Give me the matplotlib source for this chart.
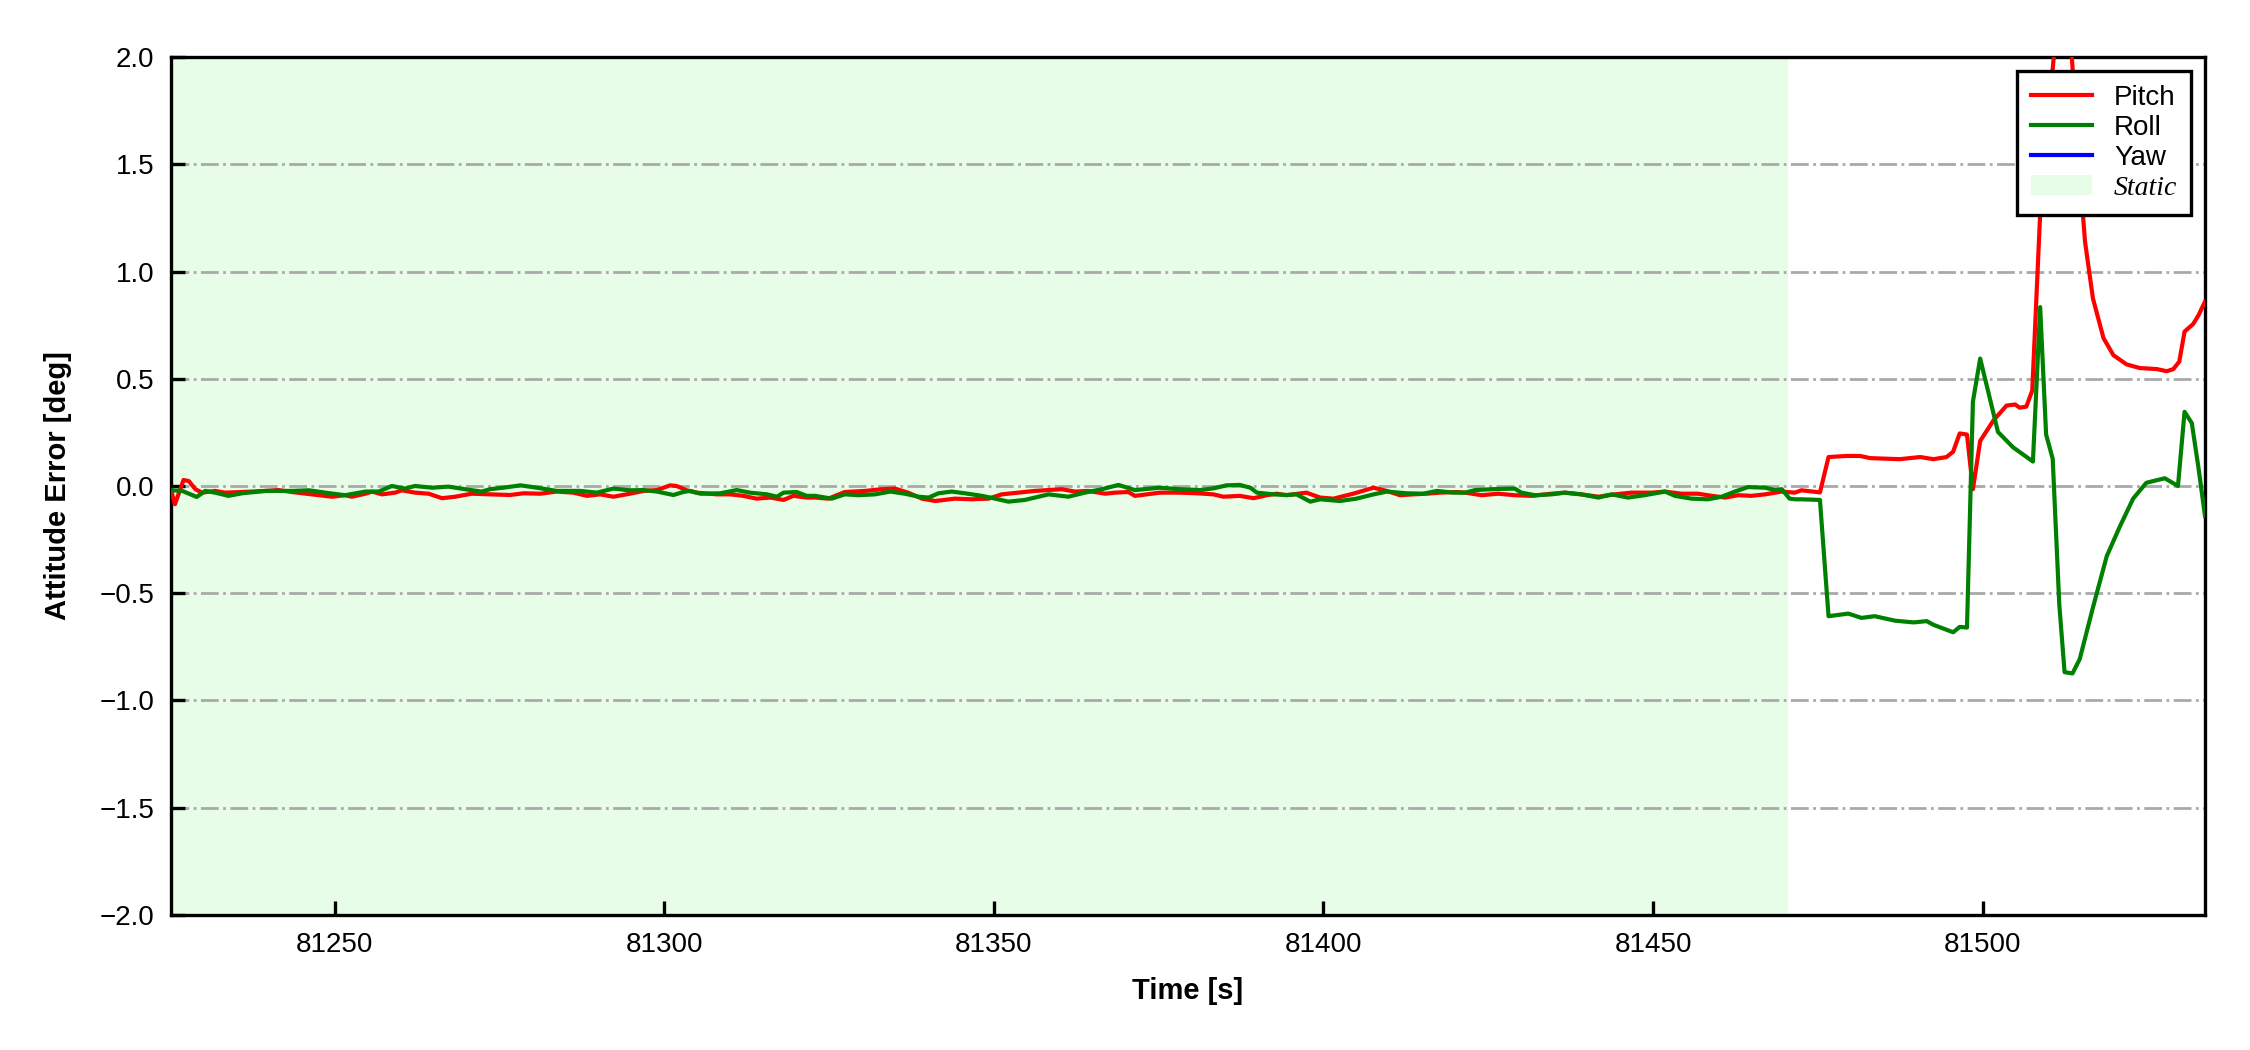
import matplotlib
matplotlib.use("Agg")
import matplotlib.pyplot as plt
from matplotlib.patches import Patch
from matplotlib.lines import Line2D

plt.rcParams['font.family'] = ['Liberation Sans', 'DejaVu Sans']
plt.rcParams['axes.unicode_minus'] = True

# ---- data ----
pitch_t = [81225.3, 81225.8, 81227.1, 81227.9, 81228.9, 81229.9, 81231.9, 81233.4, 81236.0, 81239.5,
           81241.5, 81243.5, 81246.6, 81249.6, 81251.6, 81252.6, 81254.7, 81255.7, 81257.2, 81259.2,
           81260.2, 81262.2, 81264.3, 81266.3, 81268.3, 81270.8,
           81273.6, 81276.6, 81278.7, 81281.2, 81283.7, 81286.2, 81288.3, 81290.3, 81292.3, 81294.8,
           81296.9, 81298.9, 81300.9, 81301.9, 81303.4, 81304.9, 81308.0, 81310.0, 81312.0, 81314.0,
           81316.1, 81318.1, 81319.6, 81321.6,
           81322.9, 81324.9, 81327.4, 81330.5, 81333.0, 81335.0, 81337.0, 81339.1, 81341.1, 81344.1,
           81346.6, 81349.2, 81351.2, 81353.7, 81356.2, 81358.3, 81360.3, 81362.3, 81364.3, 81366.9,
           81368.4, 81370.4, 81371.4,
           81372.2, 81375.2, 81378.2, 81380.8, 81383.3, 81384.8, 81387.3, 81389.4, 81391.4, 81392.9,
           81394.4, 81397.4, 81399.5, 81401.5, 81404.5, 81407.6, 81409.6, 81411.6, 81413.6, 81415.6,
           81417.7, 81420.2,
           81421.5, 81424.0, 81426.5, 81429.0, 81431.6, 81434.6, 81436.6, 81439.1, 81441.7, 81444.2,
           81446.7, 81449.8, 81451.8, 81454.3, 81456.8, 81458.9, 81460.9, 81462.9, 81464.9, 81467.0,
           81469.5, 81471.5,
           81472.5, 81475.3, 81476.6, 81479.3, 81481.4, 81482.9, 81487.4, 81490.5, 81492.5, 81494.5,
           81495.5, 81496.5, 81497.6, 81498.5, 81499.6, 81501.6, 81503.6, 81504.9, 81505.6, 81506.6,
           81507.5, 81508.7, 81510.9, 81512.2, 81513.5, 81514.5, 81515.5, 81516.7, 81518.3, 81519.8,
           81521.8, 81523.8, 81526.4, 81527.9, 81528.9, 81529.8, 81530.6, 81531.9, 81532.7, 81533.7]
pitch = [-0.031, -0.085, 0.028, 0.023, -0.015, -0.031, -0.023, -0.031, -0.028, -0.023,
         -0.019, -0.028, -0.039, -0.050, -0.043, -0.050, -0.036, -0.026, -0.039, -0.031,
         -0.020, -0.031, -0.036, -0.057, -0.050, -0.036,
         -0.039, -0.042, -0.034, -0.036, -0.026, -0.031, -0.046, -0.039, -0.050, -0.036,
         -0.023, -0.019, 0.003, 0.000, -0.020, -0.031, -0.039, -0.039, -0.046, -0.059,
         -0.054, -0.065, -0.046, -0.054,
         -0.054, -0.059, -0.028, -0.023, -0.015, -0.012, -0.031, -0.059, -0.070, -0.059,
         -0.062, -0.059, -0.039, -0.031, -0.023, -0.019, -0.015, -0.026, -0.023, -0.036,
         -0.031, -0.028, -0.046,
         -0.043, -0.031, -0.031, -0.034, -0.039, -0.050, -0.046, -0.057, -0.043, -0.036,
         -0.043, -0.031, -0.054, -0.059, -0.036, -0.008, -0.023, -0.043, -0.039, -0.036,
         -0.031, -0.028,
         -0.031, -0.043, -0.036, -0.043, -0.046, -0.036, -0.031, -0.039, -0.050, -0.039,
         -0.031, -0.031, -0.026, -0.036, -0.036, -0.046, -0.054, -0.043, -0.046, -0.039,
         -0.026, -0.031,
         -0.020, -0.030, 0.135, 0.140, 0.140, 0.130, 0.125, 0.135, 0.125, 0.135,
         0.160, 0.245, 0.240, -0.015, 0.210, 0.305, 0.375, 0.380, 0.365, 0.370,
         0.445, 1.270, 2.050, 2.600, 2.000, 1.540, 1.140, 0.875, 0.690, 0.610,
         0.567, 0.550, 0.545, 0.535, 0.545, 0.580, 0.720, 0.755, 0.795, 0.860]

roll_t = [81225.3, 81226.9, 81229.1, 81230.4, 81231.9, 81233.9, 81236.0, 81239.5, 81241.5, 81243.5,
          81246.1, 81248.6, 81251.6, 81254.7, 81256.7, 81258.7, 81260.7, 81262.2, 81264.8, 81267.3,
          81269.8, 81272.3,
          81273.6, 81275.6, 81278.2, 81280.7, 81283.7, 81287.3, 81289.8, 81292.3, 81294.8, 81296.9,
          81298.9, 81301.4, 81302.9, 81303.9, 81305.5, 81308.5, 81311.0, 81313.0, 81315.6, 81317.1,
          81318.1, 81320.1, 81321.6,
          81322.9, 81325.4, 81327.4, 81329.5, 81332.0, 81334.3, 81336.5, 81338.6, 81340.1, 81341.6,
          81343.6, 81345.6, 81348.2, 81350.2, 81352.2, 81354.7, 81358.3, 81361.3, 81363.8, 81366.4,
          81368.9, 81371.4,
          81375.2, 81378.2, 81381.3, 81383.3, 81385.3, 81387.3, 81388.9, 81389.9, 81392.4, 81394.4,
          81395.9, 81398.0, 81399.5, 81402.5, 81405.0, 81407.6, 81409.6, 81412.6, 81415.1, 81417.2,
          81419.7,
          81421.5, 81423.0, 81425.5, 81429.0, 81430.0, 81432.1, 81434.6, 81436.6, 81439.1, 81441.7,
          81443.7, 81446.2, 81448.7, 81451.8, 81453.3, 81455.8, 81458.3, 81460.4, 81462.4, 81464.4,
          81467.0, 81468.5, 81469.5, 81470.7, 81471.5,
          81472.5, 81475.3, 81476.6, 81479.6, 81481.6, 81483.6, 81486.7, 81489.5, 81491.5, 81492.5,
          81495.5, 81496.5, 81497.6, 81498.5, 81499.6, 81502.3, 81504.6, 81507.6, 81508.7, 81509.6,
          81510.6, 81511.6, 81512.4, 81513.6, 81514.7, 81516.7, 81518.8, 81520.8, 81522.8, 81524.8,
          81527.6, 81529.6, 81530.6, 81531.7, 81532.7, 81533.7]
roll = [-0.020, -0.023, -0.051, -0.023, -0.031, -0.046, -0.034, -0.023, -0.023, -0.023,
        -0.020, -0.031, -0.043, -0.026, -0.026, 0.000, -0.012, 0.000, -0.008, -0.003,
        -0.015, -0.026,
        -0.015, -0.008, 0.003, -0.008, -0.023, -0.023, -0.031, -0.012, -0.020, -0.019,
        -0.026, -0.042, -0.028, -0.023, -0.036, -0.034, -0.019, -0.031, -0.039, -0.050,
        -0.031, -0.028, -0.046,
        -0.046, -0.059, -0.039, -0.043, -0.039, -0.026, -0.036, -0.050, -0.054, -0.034,
        -0.026, -0.034, -0.046, -0.059, -0.073, -0.065, -0.039, -0.050, -0.031, -0.015,
        0.005, -0.019,
        -0.008, -0.015, -0.019, -0.011, 0.003, 0.005, -0.008, -0.031, -0.039, -0.042,
        -0.039, -0.073, -0.062, -0.070, -0.059, -0.039, -0.026, -0.034, -0.036, -0.023,
        -0.031,
        -0.031, -0.019, -0.015, -0.012, -0.031, -0.043, -0.039, -0.031, -0.039, -0.054,
        -0.039, -0.054, -0.043, -0.026, -0.046, -0.059, -0.062, -0.050, -0.026, -0.005,
        -0.008, -0.019, -0.015, -0.059, -0.062,
        -0.062, -0.065, -0.607, -0.595, -0.615, -0.607, -0.628, -0.636, -0.630, -0.647,
        -0.682, -0.657, -0.660, 0.394, 0.594, 0.252, 0.180, 0.114, 0.834, 0.240,
        0.127, -0.553, -0.868, -0.874, -0.807, -0.567, -0.327, -0.188, -0.059, 0.015,
        0.036, 0.000, 0.346, 0.293, 0.087, -0.140]

yaw_t = []
yaw = []

static_start, static_end = 81225.0, 81470.5
x_limits = (81225.2, 81533.7)
y_limits = (-2.0, 2.0)
y_ticks = [-2.0, -1.5, -1.0, -0.5, 0.0, 0.5, 1.0, 1.5, 2.0]
x_ticks = [81250, 81300, 81350, 81400, 81450, 81500]

# ---- figure ----
fig = plt.figure(figsize=(11.25, 5.25), dpi=200)
ax = fig.add_axes([0.076, 0.1286, 0.904, 0.8171])

static_color = '#e8fde8'
ax.axvspan(static_start, static_end, color=static_color, lw=0, zorder=0)

ax.grid(axis='y', color='darkgray', linestyle='-.', linewidth=1.0, zorder=1)

ax.plot(pitch_t, pitch, color='red', lw=1.5, label='Pitch', zorder=3)
ax.plot(roll_t, roll, color='green', lw=1.5, label='Roll', zorder=3)
ax.plot(yaw_t, yaw, color='blue', lw=1.5, label='Yaw', zorder=3)

ax.set_xlim(*x_limits)
ax.set_ylim(*y_limits)
ax.set_yticks(y_ticks)
ax.set_xticks(x_ticks)
ax.set_yticklabels([f"{v:.1f}".replace('-', '\u2212') for v in y_ticks])
ax.tick_params(direction='in', length=5, width=1.2, labelsize=10, top=False, right=False, pad=6)
for s in ax.spines.values():
    s.set_linewidth(1.2)

ax.set_xlabel('Time [s]', fontsize=10.5, fontweight='bold', labelpad=7)
ax.set_ylabel('Attitude Error [deg]', fontsize=10.5, fontweight='bold', labelpad=10)

handles = [Line2D([], [], color='red', lw=1.5),
           Line2D([], [], color='green', lw=1.5),
           Line2D([], [], color='blue', lw=1.5),
           Patch(facecolor=static_color, edgecolor='none')]
leg = ax.legend(handles, ['Pitch', 'Roll', 'Yaw', 'Static'], loc='upper right', fontsize=10,
                frameon=True, fancybox=False, framealpha=1, edgecolor='black',
                labelspacing=0.15, handlelength=2.2, handletextpad=0.8,
                borderaxespad=0.5, borderpad=0.5)
leg.get_frame().set_linewidth(1.2)
leg.get_texts()[3].set_fontfamily('Liberation Serif')
leg.get_texts()[3].set_fontstyle('italic')
leg.set_zorder(5)

fig.savefig('out.png', dpi=200)
